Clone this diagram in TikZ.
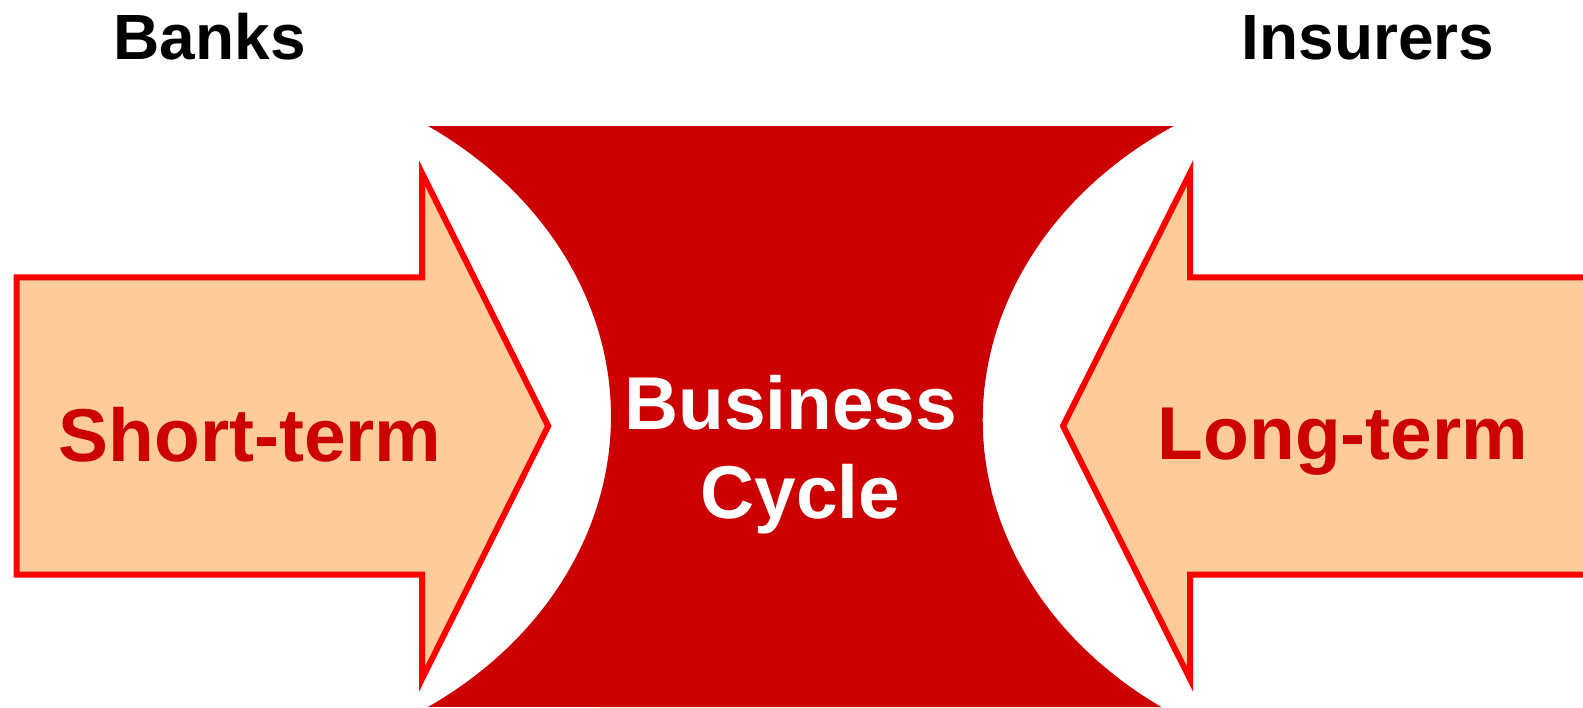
\documentclass[tikz,border=0pt]{standalone}
\usepackage{fontspec}
\setmainfont{Liberation Sans}
\usepackage{tikz}
\usetikzlibrary{calc,positioning}

\definecolor{cyclered}{HTML}{CC0000}
\definecolor{peach}{HTML}{FFCC99}
\definecolor{rimred}{HTML}{FF0000}

\tikzset{
  bigarrow/.style={fill=peach, draw=rimred, line width=0.06cm},
  headline/.style={anchor=base, inner sep=0pt, font=\fontsize{18.2}{22}\selectfont\bfseries},
  arrowtext/.style={anchor=base, inner sep=0pt, text=cyclered, font=\fontsize{21.3}{25}\selectfont\bfseries},
  cycletext/.style={anchor=base, inner sep=0pt, text=white, font=\fontsize{21.3}{25}\selectfont\bfseries}
}

\begin{document}
\begin{tikzpicture}
			\useasboundingbox (0,0) rectangle (15.83,7.07);
			% centres of the two cut-out ellipses
			\coordinate (CL) at (1.91,2.905);
			\coordinate (CR) at (14.027,2.87);
			\coordinate (LB) at ($(CL)+(-55.64:4.20 and 3.519)$);
			\coordinate (RT) at ($(CR)+(123.04:4.20 and 3.507)$);
			% red middle block
			\fill[cyclered] (LB) arc[start angle=-55.64, end angle=55.64, x radius=4.20, y radius=3.519]
				-- (RT) arc[start angle=123.04, end angle=234.93, x radius=4.20, y radius=3.507] -- cycle;
			% arrow from the left
			\draw[bigarrow] (0.166,1.325) -- (0.166,4.295) -- (4.22,4.295) -- (4.22,5.34)
				-- (5.482,2.81) -- (4.22,0.28) -- (4.22,1.325) -- cycle;
			% arrow from the right
			\draw[bigarrow] (16.2,1.325) -- (16.2,4.295) -- (11.90,4.295) -- (11.90,5.34)
				-- (10.63,2.81) -- (11.90,0.28) -- (11.90,1.325) -- cycle;
			\node[headline] (banks) at (2.097,6.477) {Banks};
			\node[headline] (insurers) at (13.68,6.47) {Insurers};
			\node[arrowtext] (short) at (2.50,2.46) {Short-term};
			\node[arrowtext] (long) at (13.43,2.48) {Long-term};
			\node[cycletext] (business) at (7.908,2.78) {Business};
			\node[cycletext] (cycle) at (8.005,1.887) {Cycle};
		\end{tikzpicture}
\end{document}
